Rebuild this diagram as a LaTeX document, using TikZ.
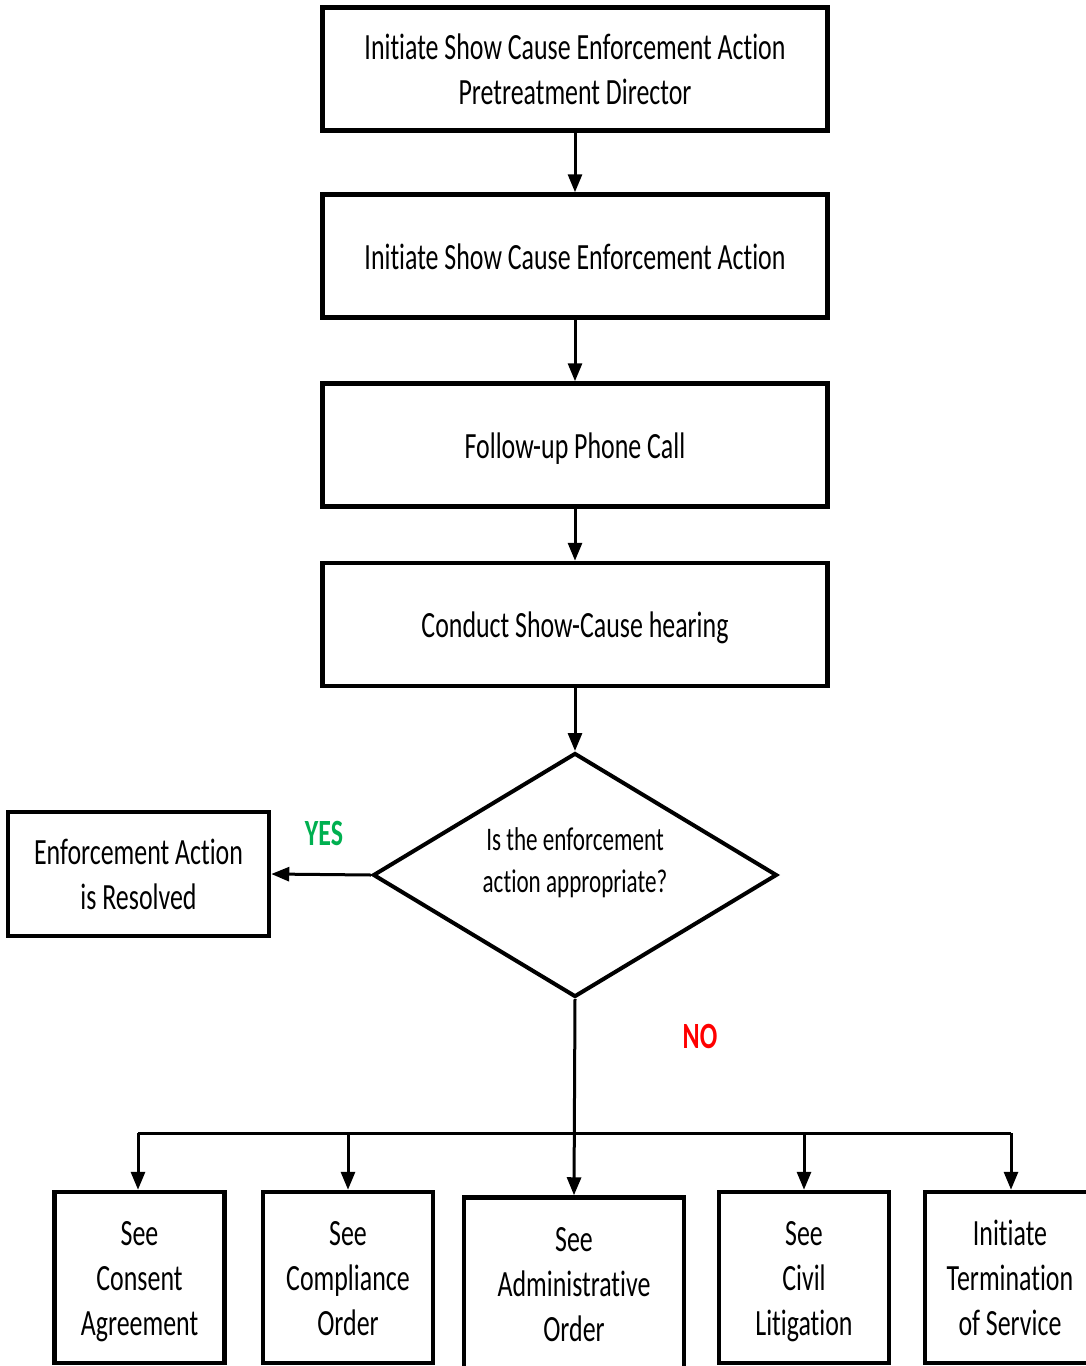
\documentclass[tikz,border=0pt]{standalone}
\usepackage{fontspec}
\setmainfont{Carlito}
\newfontfamily\narrowfont[FakeStretch=0.7, Ligatures={NoCommon,NoRare,NoContextual}]{Carlito}
\usetikzlibrary{arrows.meta,shapes.geometric}
\definecolor{yesgreen}{RGB}{0,176,80}
\definecolor{nored}{RGB}{255,0,0}
% fixed line box so every text line sits on the same baseline grid
\newcommand\lb{\rule[-7pt]{0pt}{40pt}}
\begin{document}
\begin{tikzpicture}[x=1pt,y=-1pt,
  stepbox/.style={draw, line width=4.5pt, minimum width=505pt, minimum height=123pt,
    inner sep=0pt, align=center, font=\narrowfont\fontsize{37}{45}\selectfont},
  smallbox/.style={draw, line width=4.5pt, minimum width=170pt, minimum height=171pt,
    inner sep=0pt, align=center, font=\narrowfont\fontsize{37}{45}\selectfont},
  decision/.style={diamond, draw, line width=4pt, aspect=1.65, inner sep=0pt,
    minimum width=404pt, minimum height=244pt},
  conn/.style={line width=3pt, -{Triangle[length=18pt,width=14pt]}},
  bus/.style={line width=3pt},
  answer/.style={font=\narrowfont\bfseries\fontsize{37}{45}\selectfont}]
\useasboundingbox (0,0) rectangle (1086,1366);
\clip (0,0) rectangle (1086,1366);

% main sequence
\node[stepbox] (s1) at (575,69)  {\lb Initiate Show Cause Enforcement Action\\\lb Pretreatment Director};
\node[stepbox] (s2) at (575,256) {\lb Initiate Show Cause Enforcement Action};
\node[stepbox] (s3) at (575,445) {\lb Follow-up Phone Call};
\node[stepbox] (s4) at (575,624.5) {\lb Conduct Show-Cause hearing};

% decision
\node[decision] (dec) at (575,875) {};
\node[font=\narrowfont\fontsize{33}{42}\selectfont, align=center] (q) at (575,863)
  {Is the enforcement\\action appropriate?};

\node[draw, line width=4.5pt, minimum width=261pt, minimum height=124pt, inner sep=0pt,
  align=center, font=\narrowfont\fontsize{37}{45}\selectfont] (res) at (138.5,874)
  {\lb Enforcement Action\\\lb is Resolved};

\node[answer, text=yesgreen] (yes) at (324,833) {YES};
\node[answer, text=nored] (no) at (700,1036) {NO};

% outcomes
\node[smallbox] (o1) at (139.5,1277.5) {\lb See\\\lb Consent\\\lb Agreement};
\node[smallbox] (o2) at (348,1277.5) {\lb See\\\lb Compliance\\\lb Order};
\node[smallbox, minimum width=220pt] (o3) at (574,1283) {\lb See\\\lb Administrative\\\lb Order};
\node[smallbox] (o4) at (804,1277.5) {\lb See\\\lb Civil\\\lb Litigation};
\node[smallbox] (o5) at (1010,1277.5) {\lb Initiate\\\lb Termination\\\lb of Service};

% connectors
\draw[conn] (s1.south) -- (s2.north);
\draw[conn] (s2.south) -- (s3.north);
\draw[conn] (s3.south) -- (s4.north);
\draw[conn] (s4.south) -- (dec.north);
\draw[conn] (dec.west) -- (res.east);
\draw[conn] (dec.south) -- (o3.north);

\coordinate (busL) at (138,1133);
\coordinate (busR) at (1011,1133);
\draw[bus] (busL) -- (busR);
\draw[conn] (busL) -- (busL |- o1.north);
\draw[conn] (o2.north |- busL) -- (o2.north);
\draw[conn] (o4.north |- busL) -- (o4.north);
\draw[conn] (busR) -- (busR |- o5.north);
\end{tikzpicture}
\end{document}
